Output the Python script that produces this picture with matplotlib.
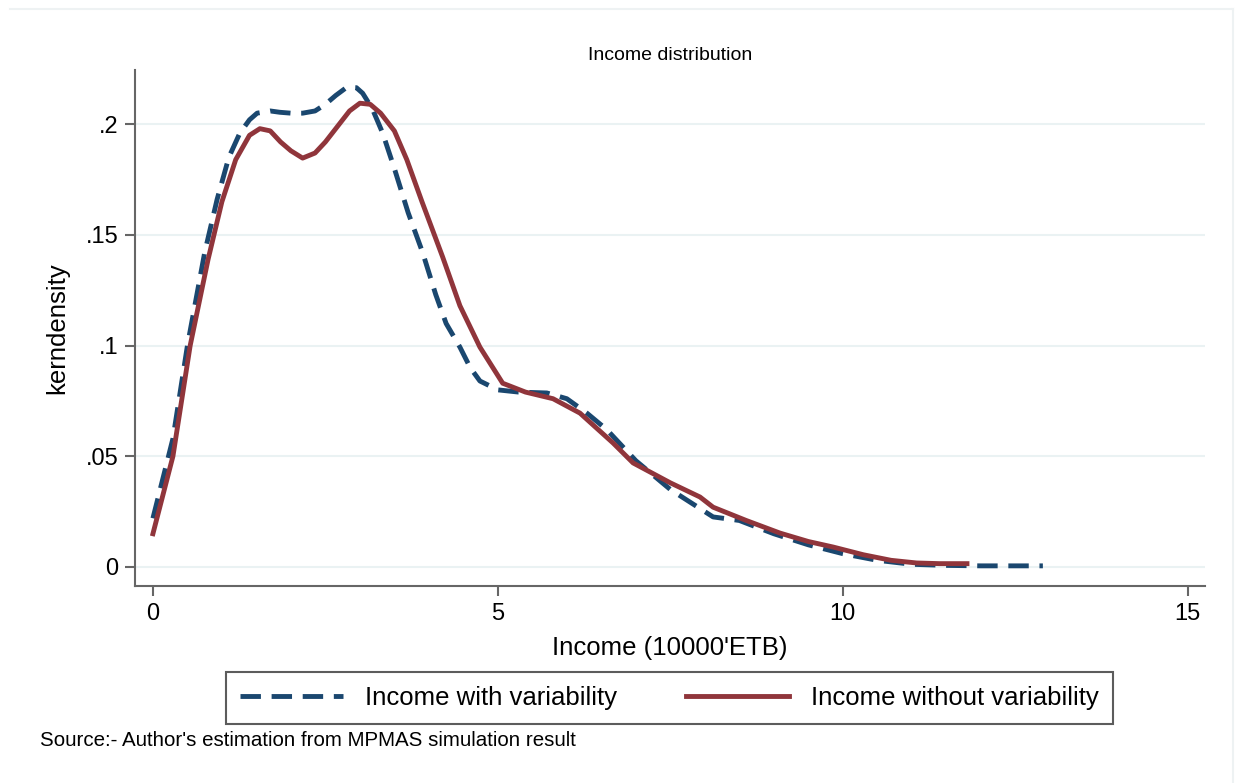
import matplotlib.pyplot as plt
from matplotlib.lines import Line2D

plt.rcParams['font.family'] = ['Liberation Sans', 'DejaVu Sans']

# kernel density
x_with = [0.0, 0.29, 0.5, 0.75, 0.93, 1.1, 1.26, 1.4, 1.51, 1.7, 1.84, 2.0, 2.17, 2.35,
          2.5, 2.65, 2.81, 2.95, 3.04, 3.18, 3.33, 3.5, 3.7, 3.91, 4.1, 4.25, 4.45, 4.6,
          4.74, 5.0, 5.3, 5.71, 6.0, 6.29, 6.58, 7.0, 7.5, 8.12, 8.5, 9.0, 9.5, 10.0, 10.5,
          11.0, 11.5, 12.0, 12.5, 12.9]
y_with = [0.022, 0.058, 0.1, 0.142, 0.166, 0.185, 0.196, 0.202, 0.205, 0.206, 0.2054, 0.205,
          0.205, 0.206, 0.209, 0.213, 0.2167, 0.2165, 0.214, 0.207, 0.196, 0.18, 0.16, 0.142,
          0.123, 0.11, 0.0993, 0.09, 0.084, 0.08, 0.079, 0.0786, 0.076, 0.0695, 0.062, 0.048,
          0.035, 0.0226, 0.021, 0.015, 0.01, 0.006, 0.003, 0.0012, 0.0007, 0.0005, 0.0005,
          0.0005]

x_without = [0.0, 0.29, 0.54, 0.8, 0.9, 1.0, 1.2, 1.4, 1.55, 1.7, 1.85, 2.0, 2.17, 2.35,
             2.5, 2.7, 2.85, 3.0, 3.15, 3.3, 3.5, 3.68, 3.9, 4.2, 4.45, 4.74, 5.07, 5.4,
             5.8, 6.19, 6.67, 6.96, 7.5, 7.93, 8.12, 8.6, 9.09, 9.5, 9.86, 10.3, 10.7,
             11.07, 11.4, 11.8]
y_without = [0.015, 0.05, 0.1, 0.139, 0.152, 0.165, 0.184, 0.195, 0.198, 0.197, 0.192,
             0.188, 0.1847, 0.187, 0.192, 0.2, 0.206, 0.2095, 0.209, 0.205, 0.197, 0.184,
             0.165, 0.14, 0.118, 0.0993, 0.083, 0.079, 0.076, 0.0695, 0.056, 0.047, 0.038,
             0.0316, 0.027, 0.021, 0.0153, 0.0115, 0.009, 0.0055, 0.003, 0.0018, 0.0015,
             0.0015]

x_ticks = [0, 5, 10, 15]
y_ticks = [0, 0.05, 0.1, 0.15, 0.2]
y_ticklabels = ['0', '.05', '.1', '.15', '.2']

blue = '#1a476f'
red = '#90353b'

fig = plt.figure(figsize=(12.35, 7.83), dpi=100)
# faint graph-region frame (only top and right edges show)
frame_col = '#eef2f3'
fig.add_artist(Line2D([0.008, 0.998], [0.988, 0.988], transform=fig.transFigure,
                      color=frame_col, lw=1.5))
fig.add_artist(Line2D([0.998, 0.998], [0.0, 0.988], transform=fig.transFigure,
                      color=frame_col, lw=1.5))

ax = fig.add_axes([0.1093, 0.2516, 0.8664, 0.659])

ax.plot(x_with, y_with, color=blue, lw=3.5, linestyle=(0, (4.2, 2.2)),
        solid_joinstyle='round', label='Income with variability')
ax.plot(x_without, y_without, color=red, lw=3.5, solid_joinstyle='round',
        label='Income without variability')

ax.set_xlim(-0.26, 15.25)
ax.set_ylim(-0.0086, 0.2245)
ax.set_xticks(x_ticks)
ax.set_yticks(y_ticks)
ax.set_yticklabels(y_ticklabels)
ax.grid(axis='y', color='#eaf2f3', lw=1.5)
ax.set_axisbelow(True)
for s in ['top', 'right']:
    ax.spines[s].set_visible(False)
for s in ['left', 'bottom']:
    ax.spines[s].set_color('#666666')
    ax.spines[s].set_linewidth(1.5)
ax.tick_params(length=7, width=1.5, color='#666666', labelsize=17, pad=5)

ax.set_title('Income distribution', fontsize=14, pad=7)
ax.set_xlabel("Income (10000'ETB)", fontsize=18.5, labelpad=8)
ax.set_ylabel('kerndensity', fontsize=18.5, labelpad=12)

leg = ax.legend(loc='upper center', bbox_to_anchor=(0.4995, -0.166), ncol=2, fontsize=18.5,
                frameon=True, fancybox=False, edgecolor='#333333', handlelength=4.0,
                columnspacing=2.7, borderpad=0.55, handletextpad=0.85, borderaxespad=0)
leg.get_frame().set_linewidth(1.5)

fig.text(0.032, 0.047, "Source:- Author's estimation from MPMAS simulation result",
         fontsize=14.8)

plt.savefig('out.png', dpi=100)
